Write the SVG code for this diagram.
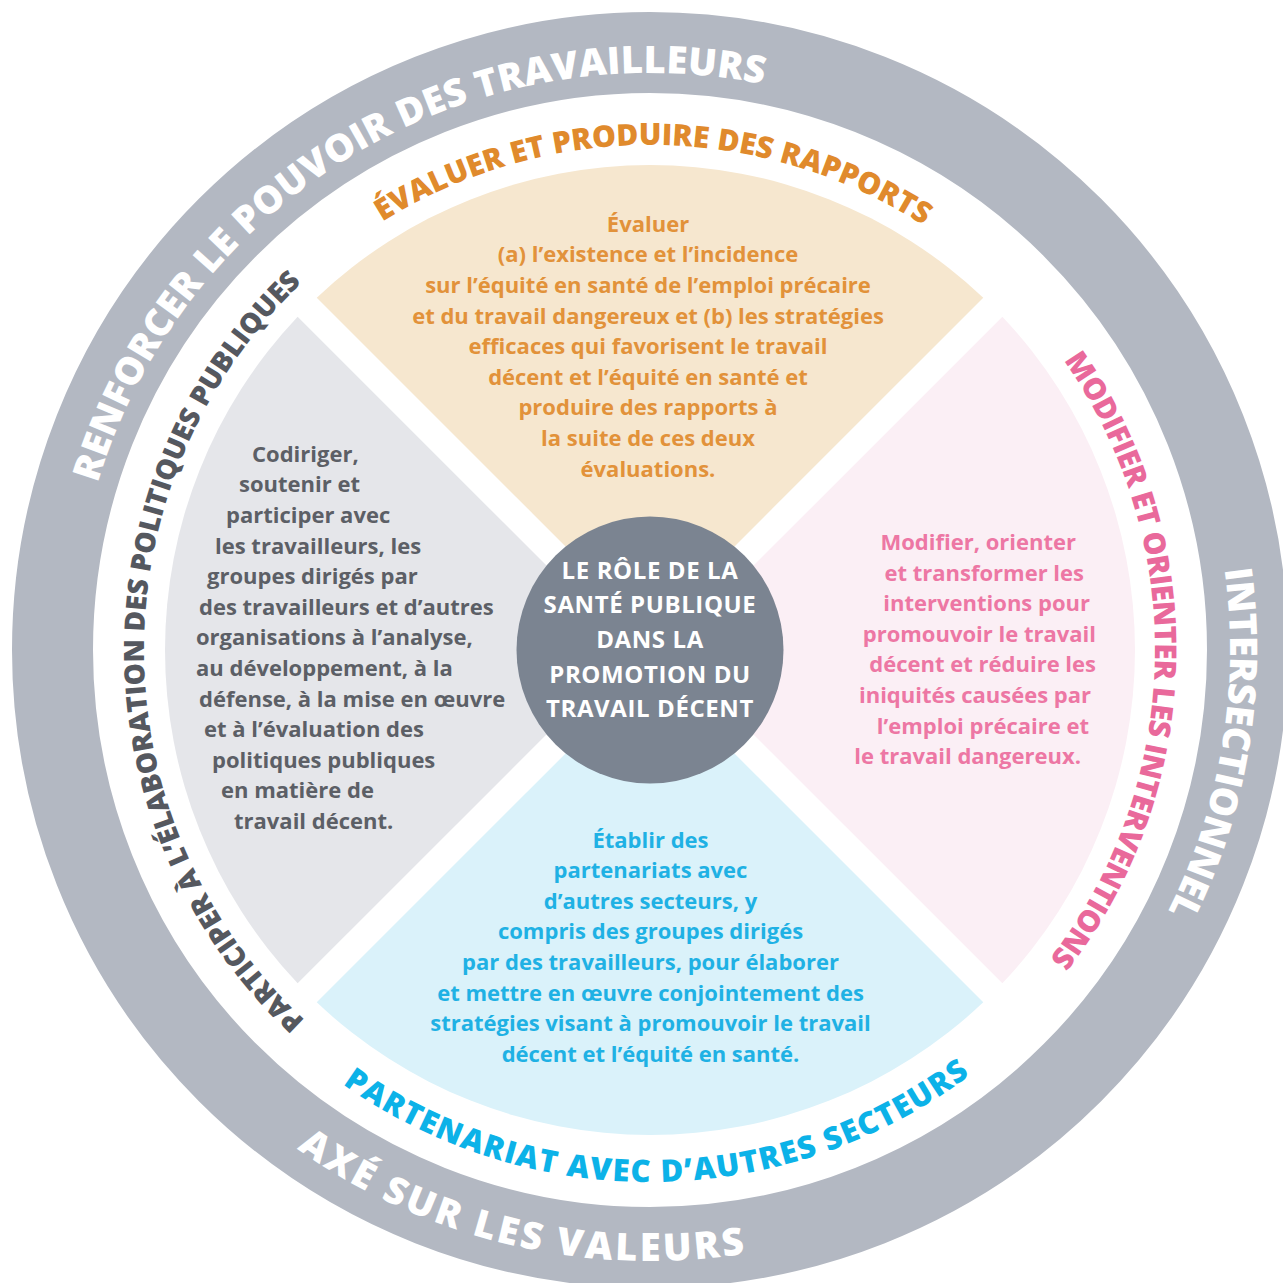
<svg xmlns="http://www.w3.org/2000/svg" width="1283" height="1283" viewBox="0 0 1283 1283">
<style>
.ring{font-family:"Open Sans","Liberation Sans",sans-serif;font-weight:800;font-size:38px;fill:#ffffff}
.lab{font-family:"Open Sans","Liberation Sans",sans-serif;font-weight:800;font-size:30px}
.body{font-family:"Open Sans","Liberation Sans",sans-serif;font-weight:700;font-size:22px}
.ctr{font-family:"Open Sans","Liberation Sans",sans-serif;font-weight:700;font-size:24px;letter-spacing:0.6px;fill:#ffffff;text-anchor:middle}
</style>
<defs>
<path id="p-renforcer" d="M 97.6 483.2 A 577 577 0 0 1 938.5 150.3"/>
<path id="p-inter" d="M 1224.4 569.3 A 580 580 0 0 1 1094.3 1022.8"/>
<path id="p-axe" d="M 296.9 1148.7 A 611 611 0 0 0 859.0 1224.2"/>
<path id="p-eval" d="M 382.4 221.7 A 505 505 0 0 1 1036.9 325.4"/>
<path id="p-modif" d="M 1063.7 360.3 A 505 505 0 0 1 974.6 1036.9"/>
<path id="p-partic" d="M 304.9 1020.1 A 506 506 0 0 1 397.0 211.8"/>
<path id="p-parten" d="M 342.6 1084.2 A 532 532 0 0 0 1057.5 992.0"/>
</defs>
<rect width="1283" height="1283" fill="#ffffff"/>

<g id="outer-ring">
<circle cx="650" cy="650" r="597.5" fill="none" stroke="#b3b8c2" stroke-width="81"/>
<text class="ring"><textPath href="#p-renforcer" textLength="851" lengthAdjust="spacing">RENFORCER LE POUVOIR DES TRAVAILLEURS</textPath></text>
<text class="ring"><textPath href="#p-inter" textLength="352" lengthAdjust="spacing">INTERSECTIONNEL</textPath></text>
<text class="ring"><textPath href="#p-axe" textLength="472" lengthAdjust="spacing">AXÉ SUR LES VALEURS</textPath></text>
</g>

<g id="connectors"></g>

<g id="sector-top">
<path d="M 650 630.9 L 316.74 297.64 A 485 485 0 0 1 983.26 297.64 Z" fill="#f6e7cf"/>
<text class="lab" fill="#e08a2c"><textPath href="#p-eval" textLength="571" lengthAdjust="spacing">ÉVALUER ET PRODUIRE DES RAPPORTS</textPath></text>
<g class="body" fill="#e2923a" text-anchor="middle">
<text x="648" y="231.7">Évaluer</text>
<text x="648" y="262.3">(a) l’existence et l’incidence</text>
<text x="648" y="292.9">sur l’équité en santé de l’emploi précaire</text>
<text x="648" y="323.5">et du travail dangereux et (b) les stratégies</text>
<text x="648" y="354.1">efficaces qui favorisent le travail</text>
<text x="648" y="384.7">décent et l’équité en santé et</text>
<text x="648" y="415.3">produire des rapports à</text>
<text x="648" y="445.9">la suite de ces deux</text>
<text x="648" y="476.5">évaluations.</text>
</g>
</g>

<g id="sector-right">
<path d="M 669.09 650 L 1002.36 316.74 A 485 485 0 0 1 1002.36 983.26 Z" fill="#fbeff5"/>
<text class="lab" fill="#e9699b"><textPath href="#p-modif" textLength="641" lengthAdjust="spacing">MODIFIER ET ORIENTER LES INTERVENTIONS</textPath></text>
<g class="body" fill="#ed77a4" text-anchor="end">
<text x="1076" y="550">Modifier, orienter</text>
<text x="1084" y="580.6">et transformer les</text>
<text x="1090" y="611.2">interventions pour</text>
<text x="1096" y="641.8">promouvoir le travail</text>
<text x="1096" y="672.4">décent et réduire les</text>
<text x="1091" y="703">iniquités causées par</text>
<text x="1089" y="733.6">l’emploi précaire et</text>
<text x="1081" y="764.2">le travail dangereux.</text>
</g>
</g>

<g id="sector-bottom">
<path d="M 650 669.09 L 983.26 1002.36 A 485 485 0 0 1 316.74 1002.36 Z" fill="#daf2fa"/>
<text class="lab" fill="#0cb2e8" style="font-size:31px"><textPath href="#p-parten" textLength="671" lengthAdjust="spacing">PARTENARIAT AVEC D’AUTRES SECTEURS</textPath></text>
<g class="body" fill="#1fb1e4" text-anchor="middle">
<text x="650.5" y="847.5">Établir des</text>
<text x="650.5" y="878.1">partenariats avec</text>
<text x="650.5" y="908.7">d’autres secteurs, y</text>
<text x="650.5" y="939.3">compris des groupes dirigés</text>
<text x="650.5" y="969.9">par des travailleurs, pour élaborer</text>
<text x="650.5" y="1000.5">et mettre en œuvre conjointement des</text>
<text x="650.5" y="1031.1">stratégies visant à promouvoir le travail</text>
<text x="650.5" y="1061.7">décent et l’équité en santé.</text>
</g>
</g>

<g id="sector-left">
<path d="M 630.91 650 L 297.64 983.26 A 485 485 0 0 1 297.64 316.74 Z" fill="#e5e6ea"/>
<text class="lab" fill="#55585f" style="font-size:28px"><textPath href="#p-partic" textLength="826" lengthAdjust="spacing">PARTICIPER À L’ÉLABORATION DES POLITIQUES PUBLIQUES</textPath></text>
<g class="body" fill="#5c5f66">
<text x="252" y="461.7">Codiriger,</text>
<text x="239" y="492.3">soutenir et</text>
<text x="226" y="522.9">participer avec</text>
<text x="215" y="553.5">les travailleurs, les</text>
<text x="207" y="584.1">groupes dirigés par</text>
<text x="199" y="614.7">des travailleurs et d’autres</text>
<text x="196" y="645.3">organisations à l’analyse,</text>
<text x="196" y="675.9">au développement, à la</text>
<text x="199" y="706.5">défense, à la mise en œuvre</text>
<text x="204" y="737.1">et à l’évaluation des</text>
<text x="212" y="767.7">politiques publiques</text>
<text x="221" y="798.3">en matière de</text>
<text x="234" y="828.9">travail décent.</text>
</g>
</g>

<g id="center">
<circle cx="650" cy="650" r="133.5" fill="#7b8491"/>
<text class="ctr" x="650" y="578.5">LE RÔLE DE LA</text>
<text class="ctr" x="650" y="613.2">SANTÉ PUBLIQUE</text>
<text class="ctr" x="650" y="647.9">DANS LA</text>
<text class="ctr" x="650" y="682.6">PROMOTION DU</text>
<text class="ctr" x="650" y="717.3">TRAVAIL DÉCENT</text>
</g>
</svg>
